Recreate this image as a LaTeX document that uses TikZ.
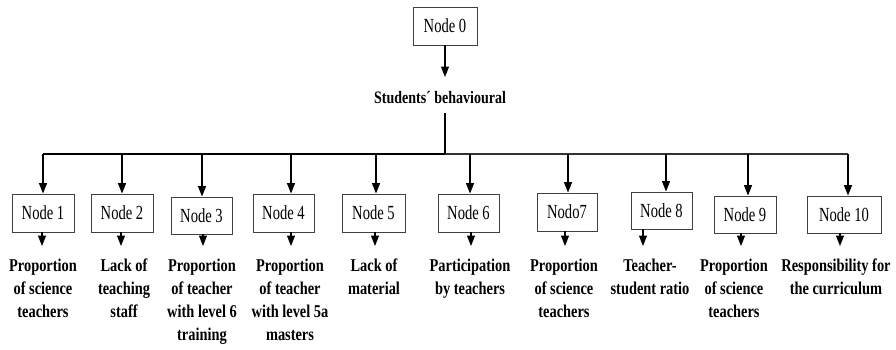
\documentclass[tikz,border=0pt]{standalone}
\usepackage{fontspec}
\setmainfont{Liberation Serif}
\newfontfamily\boxfont[FakeStretch=0.73]{Liberation Serif}
\newfontfamily\lblfont[FakeStretch=0.8]{Liberation Serif}
\usetikzlibrary{arrows.meta}
\tikzset{
  nbox/.style={draw=black!75, line width=0.9pt, minimum height=38pt, inner sep=0pt,
    font=\boxfont\fontsize{20}{22}\selectfont},
  lbl/.style={anchor=north, align=center, inner sep=0pt,
    font=\lblfont\bfseries\fontsize{18}{23}\selectfont},
  arr/.style={line width=1.3pt, -{Triangle[width=8pt,length=10.5pt]}},
}
\begin{document}
\begin{tikzpicture}[x=1pt,y=-1pt]
\useasboundingbox (0,0) rectangle (896,349);
\node[nbox, minimum width=64pt] (n0) at (445,26) {Node 0};
\node[inner sep=0pt, font=\lblfont\bfseries\fontsize{17.5}{20}\selectfont] (sb) at (440,98) {Students´ behavioural};
\coordinate (a0) at (445,77);
\draw[arr] (n0.south) -- (a0);
\coordinate (v0) at (445,113);
\coordinate (bar) at (445,154);
\draw[line width=1.3pt] (v0) -- (bar);
\coordinate (bl) at (43,154);
\coordinate (br) at (848,154);
\draw[line width=2pt] (bl) -- (bar);
\draw[line width=1.6pt, black!80] (bar) -- (br);

% boxes: name / center / width / top arrow x / bottom arrow x / label x / text
\foreach \i/\cx/\cy/\w/\h/\tx/\bx/\lx/\txt/\lab in {
  1/43/213/62/38/43/42/43/Node 1/{Proportion\\of science\\teachers},
  2/122/213/62/38/122/121/124/Node 2/{Lack of\\teaching\\staff},
  3/201.5/215.5/61/37/202/203/202/Node 3/{Proportion\\of teacher\\with level 6\\training},
  4/283.5/213/61/38/291/291/290/Node 4/{Proportion\\of teacher\\with level 5a\\masters},
  5/373.5/213/63/38/376/375/374/Node 5/{Lack of\\material},
  6/468.5/213/61/38/470/471/470/Node 6/{Participation\\by teachers},
  7/567/212/60/38/568/565/564/Nodo7/{Proportion\\of science\\teachers},
  8/661.5/210.5/61/37/666/643/650/Node 8/{Teacher-\\student ratio},
  9/745/214.5/62/37/748/741/734/Node 9/{Proportion\\of science\\teachers},
  10/844/214.5/74/37/848/840/836/Node 10/{Responsibility for\\the curriculum}}{
  \node[nbox, minimum width=\w pt, minimum height=\h pt] (b\i) at (\cx,\cy) {\txt};
  \coordinate (t\i) at (\tx,154);
  \draw[arr] (t\i) -- (t\i |- b\i.north);
  \coordinate (d\i) at (\bx,246);
  \draw[arr] (d\i |- b\i.south) -- (d\i);
  \node[lbl] (l\i) at (\lx,259) {\lab};
}
\end{tikzpicture}
\end{document}
